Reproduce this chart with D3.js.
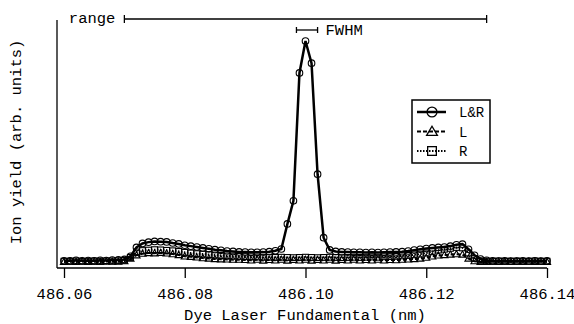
<!DOCTYPE html>
<html>
<head>
<meta charset="utf-8">
<script src="https://cdn.jsdelivr.net/npm/d3@7"></script>
<style>
  body { margin: 0; background: #fff; }
  text { font-family: "Courier New", "Liberation Mono", monospace; fill: #000; }
</style>
</head>
<body>
<div id="chart"></div>
<script>
var w = 574, h = 324;

// wavelength (nm) of every scan point
var wavelength = [
  486.060, 486.061, 486.062, 486.063, 486.064, 486.065, 486.066, 486.067, 486.068, 486.069,
  486.070, 486.071, 486.072, 486.073, 486.074, 486.075, 486.076, 486.077, 486.078, 486.079,
  486.080, 486.081, 486.082, 486.083, 486.084, 486.085, 486.086, 486.087, 486.088, 486.089,
  486.090, 486.091, 486.092, 486.093, 486.094, 486.095, 486.096, 486.097, 486.098, 486.099,
  486.100, 486.101, 486.102, 486.103, 486.104, 486.105, 486.106, 486.107, 486.108, 486.109,
  486.110, 486.111, 486.112, 486.113, 486.114, 486.115, 486.116, 486.117, 486.118, 486.119,
  486.120, 486.121, 486.122, 486.123, 486.124, 486.125, 486.126, 486.127, 486.128, 486.129,
  486.130, 486.131, 486.132, 486.133, 486.134, 486.135, 486.136, 486.137, 486.138, 486.139,
  486.140
];

// ion yield, both beams (L&R)
var yieldLR = [
  0.010, 0.010, 0.012, 0.010, 0.011, 0.010, 0.012, 0.011, 0.013, 0.014,
  0.016, 0.030, 0.070, 0.088, 0.094, 0.097, 0.096, 0.095, 0.090, 0.086,
  0.080, 0.076, 0.072, 0.068, 0.064, 0.060, 0.057, 0.054, 0.052, 0.050,
  0.049, 0.048, 0.048, 0.049, 0.051, 0.055, 0.063, 0.176, 0.280, 0.856,
  1.000, 0.900, 0.400, 0.114, 0.059, 0.052, 0.050, 0.049, 0.048, 0.048,
  0.047, 0.048, 0.047, 0.048, 0.049, 0.050, 0.051, 0.054, 0.058, 0.062,
  0.065, 0.068, 0.070, 0.072, 0.076, 0.082, 0.085, 0.062, 0.035, 0.018,
  0.012, 0.010, 0.009, 0.010, 0.009, 0.008, 0.010, 0.009, 0.010, 0.009,
  0.010
];

// left beam only (L)
var yieldL = [
  0.005, 0.006, 0.005, 0.007, 0.005, 0.006, 0.005, 0.007, 0.006, 0.006,
  0.008, 0.020, 0.035, 0.042, 0.045, 0.044, 0.046, 0.043, 0.040, 0.036,
  0.030, 0.028, 0.025, 0.022, 0.020, 0.018, 0.017, 0.016, 0.015, 0.015,
  0.014, 0.012, 0.015, 0.011, 0.014, 0.012, 0.015, 0.011, 0.014, 0.012,
  0.015, 0.011, 0.014, 0.012, 0.015, 0.011, 0.014, 0.012, 0.015, 0.012,
  0.014, 0.012, 0.015, 0.012, 0.014, 0.013, 0.015, 0.016, 0.018, 0.020,
  0.024, 0.030, 0.034, 0.036, 0.038, 0.040, 0.038, 0.020, 0.008, 0.005,
  0.005, 0.006, 0.005, 0.006, 0.005, 0.006, 0.005, 0.006, 0.005, 0.006,
  0.005
];

// right beam only (R)
var yieldR = [
  0.008, 0.008, 0.009, 0.008, 0.008, 0.009, 0.008, 0.009, 0.009, 0.010,
  0.012, 0.025, 0.050, 0.056, 0.058, 0.060, 0.059, 0.057, 0.055, 0.052,
  0.048, 0.045, 0.042, 0.040, 0.038, 0.036, 0.034, 0.032, 0.031, 0.030,
  0.029, 0.028, 0.027, 0.026, 0.026, 0.025, 0.026, 0.025, 0.024, 0.025,
  0.026, 0.025, 0.024, 0.025, 0.026, 0.025, 0.024, 0.025, 0.026, 0.025,
  0.026, 0.027, 0.026, 0.028, 0.029, 0.030, 0.032, 0.034, 0.037, 0.040,
  0.045, 0.052, 0.058, 0.062, 0.066, 0.070, 0.068, 0.045, 0.020, 0.010,
  0.008, 0.008, 0.009, 0.008, 0.008, 0.009, 0.008, 0.008, 0.009, 0.008,
  0.008
];

var xTicks = [486.06, 486.08, 486.10, 486.12, 486.14];
var rangeSpan = [486.07, 486.13];
var fwhmSpan = [486.0985, 486.1020];

var series = [
  { name: "R", values: yieldR, dash: "1.5,1.5", width: 2, marker: "square" },
  { name: "L", values: yieldL, dash: "4,2", width: 2, marker: "triangle" },
  { name: "L&R", values: yieldLR, dash: null, width: 2.5, marker: "circle" }
];

var svg = d3.select("#chart").append("svg")
    .attr("width", w).attr("height", h);

var x = d3.scaleLinear().domain([486.06, 486.14]).range([64, 547]);
var y = d3.scaleLinear().domain([0, 1]).range([263, 41]);

// axes frame
svg.append("line").attr("x1", 57).attr("x2", 57).attr("y1", 20).attr("y2", 268)
    .attr("stroke", "#000").attr("stroke-width", 1.3);
svg.append("line").attr("x1", 57).attr("x2", 547).attr("y1", 268).attr("y2", 268)
    .attr("stroke", "#000").attr("stroke-width", 1.3);

var xAxis = svg.append("g")
    .attr("transform", "translate(0,268)")
    .call(d3.axisBottom(x).tickValues(xTicks).tickFormat(d3.format(".2f"))
        .tickSize(10).tickPadding(10).tickSizeOuter(0));
xAxis.select(".domain").remove();
xAxis.selectAll("line").attr("stroke", "#000").attr("stroke-width", 1.3);
xAxis.selectAll("text").attr("font-size", "15.5px")
    .attr("font-family", "'Courier New', 'Liberation Mono', monospace");

svg.append("text").attr("x", 305).attr("y", 320).attr("text-anchor", "middle")
    .attr("font-size", "15.5px").text("Dye Laser Fundamental (nm)");

svg.append("text").attr("transform", "translate(21,142) rotate(-90)")
    .attr("text-anchor", "middle").attr("font-size", "15.5px")
    .text("Ion yield (arb. units)");

// range & FWHM bars
function bar(span, yy, cap) {
    var g = svg.append("g").attr("stroke", "#000").attr("stroke-width", 1.3);
    g.append("line").attr("x1", x(span[0])).attr("x2", x(span[1])).attr("y1", yy).attr("y2", yy);
    span.forEach(function (v) {
        g.append("line").attr("x1", x(v)).attr("x2", x(v)).attr("y1", yy - cap).attr("y2", yy + cap);
    });
}
bar(rangeSpan, 19, 4);
bar(fwhmSpan, 30, 3);
svg.append("text").attr("x", x(rangeSpan[0]) - 9).attr("y", 23).attr("text-anchor", "end")
    .attr("font-size", "15.5px").text("range");
svg.append("text").attr("x", x(fwhmSpan[1]) + 8).attr("y", 35)
    .attr("font-size", "15.5px").text("FWHM");

// markers, k scales the size
function marker(g, type, cx, cy, k) {
    if (type == "circle") {
        g.append("circle").attr("cx", cx).attr("cy", cy).attr("r", 3.3 * k);
    } else if (type == "triangle") {
        g.append("path").attr("d", "M" + cx + "," + (cy - 3.5 * k) + "L" + (cx + 3.6 * k) + "," + (cy + 2.6 * k) + "L" + (cx - 3.6 * k) + "," + (cy + 2.6 * k) + "Z");
    } else {
        g.append("rect").attr("x", cx - 2.9 * k).attr("y", cy - 2.9 * k).attr("width", 5.8 * k).attr("height", 5.8 * k);
    }
}

var line = d3.line().x(function (d) { return x(d[0]); }).y(function (d) { return y(d[1]); });

series.forEach(function (s) {
    var pts = wavelength.map(function (wl, i) { return [wl, s.values[i]]; });
    svg.append("path").datum(pts).attr("d", line)
        .attr("fill", "none").attr("stroke", "#000")
        .attr("stroke-width", s.width).attr("stroke-dasharray", s.dash);
    var mg = svg.append("g").attr("fill", "none").attr("stroke", "#000").attr("stroke-width", 1.1);
    pts.forEach(function (p) { marker(mg, s.marker, x(p[0]), y(p[1]), 1); });
});

// legend
var legend = svg.append("g");
legend.append("rect").attr("x", 412).attr("y", 100).attr("width", 78).attr("height", 63)
    .attr("fill", "#fff").attr("stroke", "#000").attr("stroke-width", 1.5);
series.slice().reverse().forEach(function (s, i) {
    var ly = 112 + i * 19.5;
    legend.append("line").attr("x1", 417).attr("x2", 446).attr("y1", ly).attr("y2", ly)
        .attr("stroke", "#000").attr("stroke-width", s.width).attr("stroke-dasharray", s.dash);
    var mg = legend.append("g").attr("fill", "none").attr("stroke", "#000").attr("stroke-width", 1.3);
    marker(mg, s.marker, 432, ly, 1.5);
    legend.append("text").attr("x", 459).attr("y", ly + 5).attr("font-size", "14px").text(s.name);
});
</script>
</body>
</html>
